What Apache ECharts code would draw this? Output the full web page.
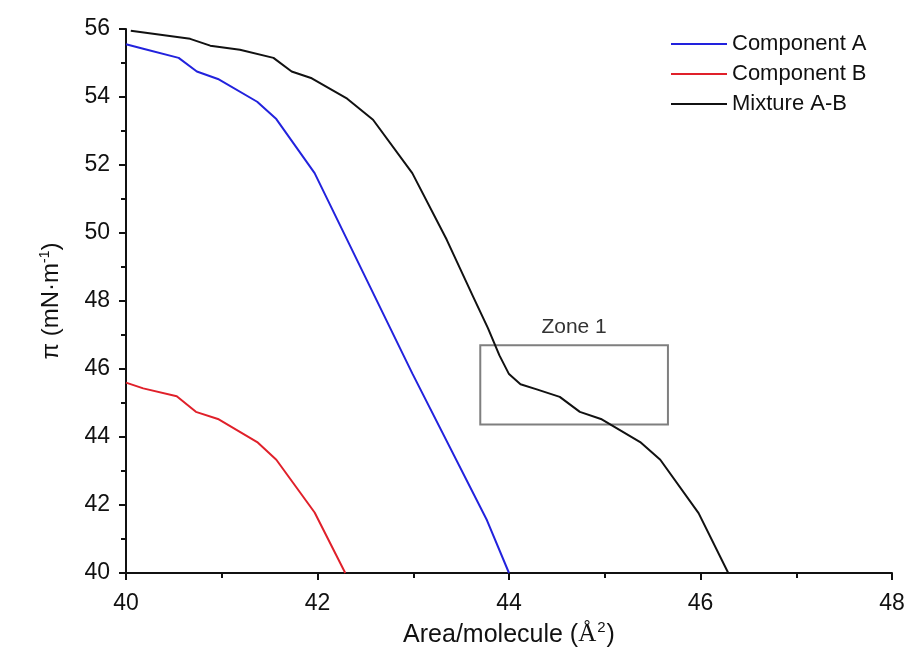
<!DOCTYPE html>
<html><head><meta charset="utf-8">
<script src="https://cdn.jsdelivr.net/npm/echarts@6/dist/echarts.min.js"></script>
<style>html,body{margin:0;padding:0;background:#fff}#c{width:909px;height:649px}</style>
</head><body><div id="c"></div>
<script>
// Component A: [area, pressure]
const componentA = [[40.0,55.55],[40.18,55.42],[40.55,55.15],[40.74,54.75],[40.96,54.53],[41.37,53.86],[41.57,53.35],[41.97,51.76],[42.99,45.87],[43.77,41.55],[44.0,40.0]];
// Component B
const componentB = [[40.0,45.6],[40.18,45.43],[40.53,45.2],[40.73,44.74],[40.96,44.53],[41.37,43.85],[41.57,43.33],[41.97,41.78],[42.29,40.0]];
// Mixture A-B
const mixtureAB = [[40.05,55.95],[40.67,55.71],[40.88,55.51],[41.19,55.39],[41.54,55.15],[41.73,54.75],[41.94,54.55],[42.31,53.95],[42.58,53.33],[42.99,51.76],[43.35,49.8],[43.63,48.1],[43.78,47.2],[43.9,46.4],[44.0,45.85],[44.12,45.55],[44.29,45.4],[44.53,45.18],[44.74,44.74],[44.96,44.53],[45.37,43.85],[45.58,43.33],[45.98,41.76],[46.29,40.0]];
const seriesNames = ['Component A','Component B','Mixture A-B'];
// Zone 1 box: [xMin, yMax], [xMax, yMin]
const zoneBox = [[43.7,46.7],[45.66,44.37]];
const zoneLabel = 'Zone 1';
const xTicks = [40,42,44,46,48];
const yTicks = [40,42,44,46,48,50,52,54,56];

const chart = echarts.init(document.getElementById('c'));
const F = 'Liberation Sans, Arial, sans-serif';
const axisCommon = {
  axisLine:{show:true,onZero:false,lineStyle:{color:'#111',width:2}},
  axisTick:{show:true,inside:false,length:7,lineStyle:{color:'#111',width:2}},
  minorTick:{show:true,splitNumber:2,length:5,lineStyle:{color:'#111',width:2}},
  splitLine:{show:false},
  axisLabel:{color:'#111',fontSize:23,fontFamily:F}
};
chart.setOption({
  animation:false,
  backgroundColor:'#fff',
  grid:{left:126,right:17,top:29,bottom:76,containLabel:false,outerBoundsMode:'none'},
  legend:{
    orient:'vertical',left:666,top:28,itemWidth:56,itemHeight:2,itemGap:8,icon:'rect',
    textStyle:{fontSize:22,fontFamily:F,color:'#111',padding:[0,0,0,0]},
    data:seriesNames
  },
  xAxis:Object.assign({}, axisCommon, {
    type:'value',min:xTicks[0],max:xTicks[xTicks.length-1],interval:2,
    axisLabel:Object.assign({}, axisCommon.axisLabel, {margin:19}),
    name:'{a|Area/molecule (}{b|Å}{s|2}{a|)}',nameLocation:'middle',nameGap:40,
    nameTextStyle:{rich:{
      a:{fontSize:25,fontFamily:F,color:'#111'},
      b:{fontSize:25,fontFamily:'Liberation Serif, Times New Roman, serif',color:'#111'},
      s:{fontSize:15,fontFamily:F,color:'#111',verticalAlign:'top',padding:[0,1,15,1]}
    }}
  }),
  yAxis:Object.assign({}, axisCommon, {
    type:'value',min:yTicks[0],max:yTicks[yTicks.length-1],interval:2,
    axisLabel:Object.assign({}, axisCommon.axisLabel, {margin:16}),
    name:'{a|π (mN·m}{s|-1}{a|)}',nameLocation:'middle',nameGap:62,nameRotate:90,
    nameTextStyle:{rich:{
      a:{fontSize:24,fontFamily:F,color:'#111'},
      s:{fontSize:14,fontFamily:F,color:'#111',padding:[0,0,12,0]}
    }}
  }),
  series:[
    {name:seriesNames[0],type:'line',data:componentA,symbol:'none',lineStyle:{color:'#2222dd',width:2},itemStyle:{color:'#2222dd'}},
    {name:seriesNames[1],type:'line',data:componentB,symbol:'none',lineStyle:{color:'#e0202a',width:2},itemStyle:{color:'#e0202a'}},
    {name:seriesNames[2],type:'line',data:mixtureAB,symbol:'none',lineStyle:{color:'#111',width:2},itemStyle:{color:'#111'},
     markArea:{silent:true,
       itemStyle:{color:'rgba(0,0,0,0)',borderColor:'#7f7f7f',borderWidth:2},
       label:{show:true,position:'top',distance:6,color:'#333',fontSize:21,fontFamily:F,formatter:zoneLabel},
       data:[[{xAxis:zoneBox[0][0],yAxis:zoneBox[0][1]},{xAxis:zoneBox[1][0],yAxis:zoneBox[1][1]}]]
     }}
  ]
});
</script></body></html>
